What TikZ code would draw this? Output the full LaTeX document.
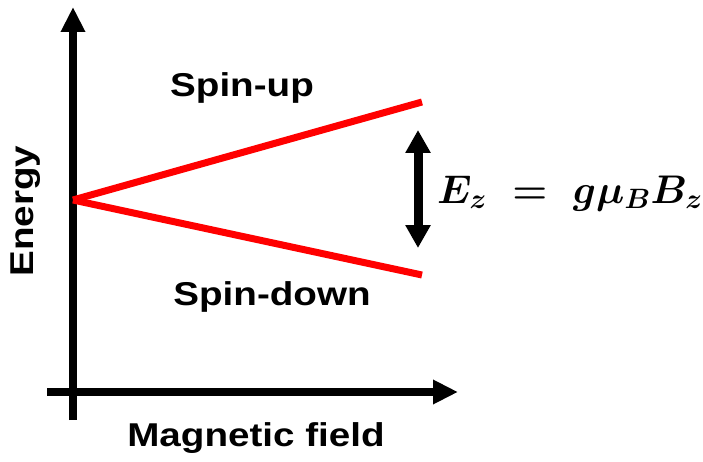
\RequirePackage{fix-cm}
\documentclass[tikz,border=0pt]{standalone}
\usepackage{amsmath,amssymb}
\usepackage{fontspec}
\newfontfamily\lblfont{Liberation Sans}[FakeStretch=1.17]
\usetikzlibrary{arrows.meta}

\tikzset{
	lbl/.style={inner sep=0pt, font={\lblfont\bfseries\fontsize{33}{39}\selectfont}},
	eqn/.style={inner sep=0pt, font={\fontsize{40}{48}\selectfont}},
	axis/.style={line width=8pt, -{Triangle[length=25pt, width=23pt]}},
	level/.style={line width=7pt, red}
}

\begin{document}
\begin{tikzpicture}[x=1pt, y=1pt]
	\useasboundingbox (0,0) rectangle (703,461);
	\coordinate (ybot) at (73,41); \coordinate (ytop) at (73,454);
	\coordinate (xleft) at (47,69); \coordinate (xright) at (458,69);
	\coordinate (zero) at (73,261); \coordinate (upend) at (422,359); \coordinate (downend) at (422,186);
	\coordinate (gaptop) at (418,331); \coordinate (gapbot) at (418,213);
	\draw[axis] (ybot) -- (ytop);
	\draw[axis] (xleft) -- (xright);
	\draw[level] (zero) -- (upend);
	\draw[level] (zero) -- (downend);
	\draw[line width=9pt, {Triangle[length=23pt, width=24pt]}-{Triangle[length=23pt, width=24pt]}] (gapbot) -- (gaptop);
	\node[lbl, anchor=base] (up) at (242,364) {Spin-up};
	\node[lbl, anchor=base] (down) at (272,156) {Spin-down};
	\node[lbl, anchor=base] (field) at (256,15) {Magnetic field};
	\node[lbl, anchor=base, rotate=90] (energy) at (33,250) {Energy};
	\node[eqn, anchor=base west] (zeeman) at (437,258) {$\boldsymbol{E_z \;=\; g\mu_B B_z}$};
\end{tikzpicture}
\end{document}
